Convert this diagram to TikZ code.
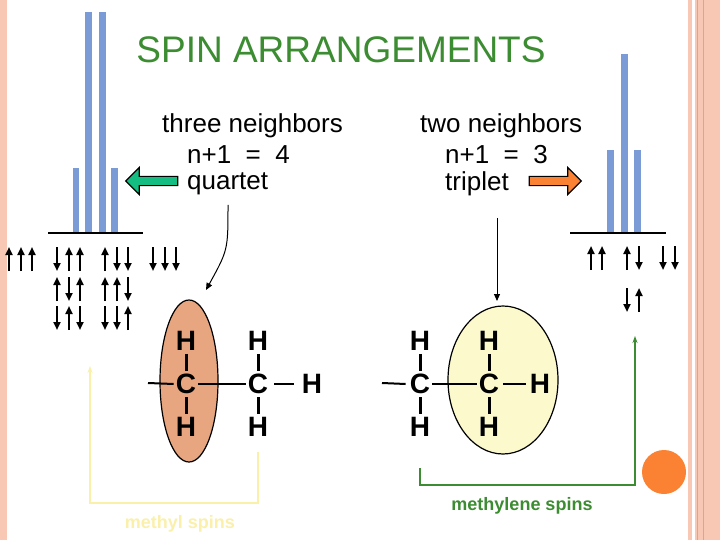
\documentclass[tikz,border=0pt]{standalone}
\usepackage{fontspec}
\setmainfont{Liberation Sans}
\usetikzlibrary{arrows.meta,shapes.arrows}
\definecolor{bar}{RGB}{122,155,214}
\definecolor{pk}{RGB}{248,200,180}
\definecolor{pkd}{RGB}{236,160,130}
\definecolor{tgreen}{RGB}{60,140,50}
\definecolor{egg}{RGB}{232,166,128}
\definecolor{pyel}{RGB}{252,250,205}
\definecolor{lyel}{RGB}{250,240,170}
\definecolor{orng}{RGB}{250,130,50}
\definecolor{teal}{RGB}{20,190,130}
\tikzset{
  txt/.style={font=\fontsize{26}{28}\selectfont, anchor=west, inner sep=0},
  atom/.style={font=\bfseries\fontsize{28}{30}\selectfont, inner sep=0},
  bond/.style={line width=3pt},
  spin/.style={line width=2pt,-{Triangle[length=8pt,width=7pt]}},
  barst/.style={fill=bar,draw=none},
}
\newcommand{\up}[2]{\draw[spin] (#1,#2+12) -- (#1,#2-12);}
\newcommand{\dn}[2]{\draw[spin] (#1,#2-12) -- (#1,#2+12);}
\begin{document}
\begin{tikzpicture}[x=1pt,y=-1pt]
\useasboundingbox (0,0) rectangle (720,540);
\fill[white] (0,0) rectangle (720,540);
% borders
\fill[pk] (0,0) rectangle (7,540);
\fill[pk] (688,0) rectangle (692,540);
\fill[pk] (695,0) rectangle (720,540);
\draw[pkd,line width=0.8pt] (697,0) -- (697,540) (703,0) -- (703,540);
% title
\node[font=\fontsize{37}{40}\selectfont, text=tgreen] (title) at (341,50) {SPIN ARRANGEMENTS};
% left spectrum
\fill[barst] (73,168) rectangle (79,233);
\fill[barst] (85,12) rectangle (92,233);
\fill[barst] (99,12) rectangle (106,233);
\fill[barst] (111,168) rectangle (118,233);
\draw[line width=1.5pt] (48,233) -- (143,233);
% right spectrum
\fill[barst] (607,150) rectangle (614,233);
\fill[barst] (621,54) rectangle (628,233);
\fill[barst] (634,150) rectangle (641,233);
\draw[line width=1.5pt] (570,233) -- (666,233);
% left spins
\up{9}{259}\up{21}{259}\up{32}{259}
\dn{57}{259}\up{69}{259}\up{80}{259}
\up{105}{259}\dn{117}{259}\dn{128}{259}
\dn{153}{259}\dn{165}{259}\dn{176}{259}
\up{57}{289}\dn{69}{289}\up{80}{289}
\up{105}{289}\up{117}{289}\dn{128}{289}
\dn{57}{318}\up{69}{318}\dn{80}{318}
\dn{105}{318}\dn{117}{318}\up{128}{318}
% right spins
\up{591}{258}\up{602}{258}
\up{627}{258}\dn{639}{258}
\dn{663}{258}\dn{675}{258}
\dn{627}{300}\up{639}{300}
% texts
\node[txt] (t1) at (162,126) {three neighbors};
\node[txt] (t2) at (187,155) {n+1\ \ =\ \ 4};
\node[txt] (t3) at (187,184) {quartet};
\node[txt] (u1) at (420,126) {two neighbors};
\node[txt] (u2) at (445,155) {n+1\ \ =\ \ 3};
\node[txt] (u3) at (445,184) {triplet};
% block arrows
\node[single arrow, shape border rotate=180, fill=teal, draw=black, line width=1.2pt, minimum height=52pt, minimum width=27pt, single arrow head extend=5pt, inner sep=2pt] (ga) at (154,181) {};
\node[single arrow, fill=orng, draw=black, line width=1.2pt, minimum height=52pt, minimum width=27pt, single arrow head extend=5pt, inner sep=2pt] (oa) at (553,181) {};
% ellipses
\draw[fill=egg, line width=1.2pt] (189,381) ellipse (29 and 81);
\draw[fill=pyel, line width=1.2pt] (503,380) ellipse (55 and 74);
% molecule left
\node[atom] (h1) at (186,341) {H};
\node[atom] (c1) at (186,384) {C};
\node[atom] (h2) at (186,427) {H};
\node[atom] (h3) at (258,341) {H};
\node[atom] (c2) at (258,384) {C};
\node[atom] (h4) at (258,427) {H};
\node[atom] (h5) at (312,384) {H};
\coordinate (l1) at (148,383);
\draw[line width=2pt] (l1) -- ([xshift=-2pt]c1.west);
\draw[line width=2pt] ([xshift=2pt]c1.east) -- ([xshift=-2pt]c2.west);
\draw[line width=2pt] ([xshift=6pt]c2.east) -- ([xshift=-8pt]h5.west);
\foreach \a/\b in {h1/c1,c1/h2,h3/c2,c2/h4}{\draw[bond] ([yshift=-3pt]\a.south) -- ([yshift=3pt]\b.north);}
% molecule right
\node[atom] (h6) at (420,341) {H};
\node[atom] (c3) at (420,384) {C};
\node[atom] (h7) at (420,427) {H};
\node[atom] (h8) at (489,341) {H};
\node[atom] (c4) at (489,384) {C};
\node[atom] (h9) at (540,384) {H};
\coordinate (l2) at (382,383);
\node[atom] (h10) at (489,427) {H};
\draw[line width=2pt] (l2) -- ([xshift=-4pt]c3.west);
\draw[line width=2pt] ([xshift=2pt]c3.east) -- ([xshift=-2pt]c4.west);
\draw[line width=2pt] ([xshift=4pt]c4.east) -- ([xshift=-4pt]h9.west);
\foreach \a/\b in {h6/c3,c3/h7,h8/c4,c4/h10}{\draw[bond] ([yshift=-3pt]\a.south) -- ([yshift=3pt]\b.north);}
% pointer arrows
\coordinate (p1) at (228,205);
\coordinate (p2) at (206,290);
\draw[line width=1pt,-{Triangle[length=7pt,width=6pt]}] (p1) .. controls (228,250) .. (p2);
\coordinate (p3) at (497,218);
\coordinate (p4) at (497,301);
\draw[line width=1pt,-{Triangle[length=7pt,width=6pt]}] (p3) -- (p4);
% connectors
\coordinate (m1) at (258,452);
\coordinate (m2) at (90,366);
\draw[lyel,line width=1.3pt,-{Stealth[length=7pt,width=5pt]}] (m1) -- (258,503) -- (90,503) -- (m2);
\coordinate (n1) at (420,468);
\coordinate (n2) at (635,336);
\draw[tgreen,line width=1.3pt,-{Stealth[length=7pt,width=5pt]}] (n1) -- (420,485) -- (635,485) -- (n2);
\node[font=\bfseries\fontsize{18}{20}\selectfont, text=lyel] (ml) at (180,524) {methyl spins};
\node[font=\bfseries\fontsize{18}{20}\selectfont, text=tgreen] (nl) at (522,506) {methylene spins};
% orange dot
\fill[orng] (664,472) circle (22);
\end{tikzpicture}
\end{document}
